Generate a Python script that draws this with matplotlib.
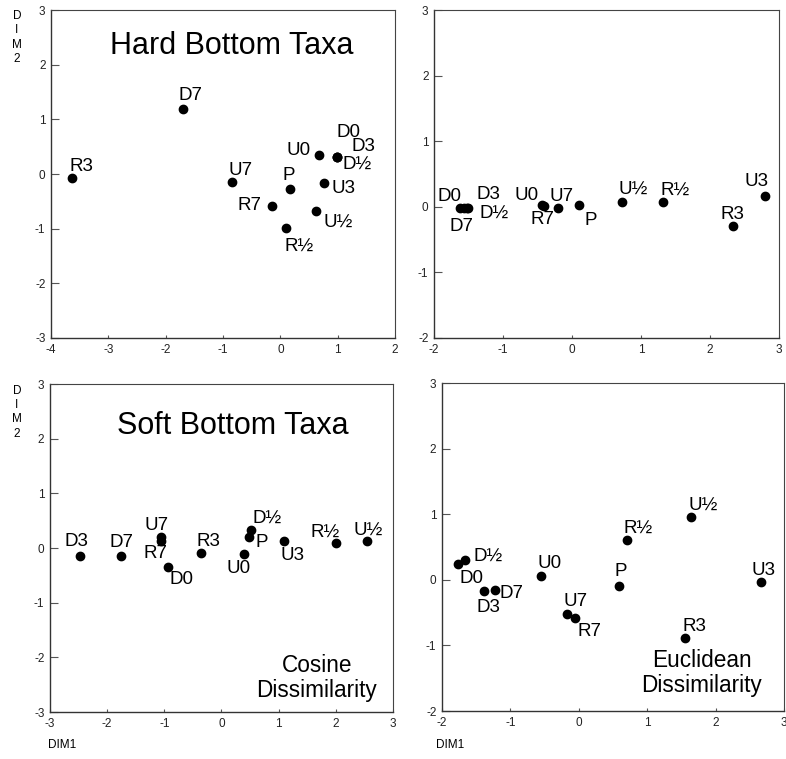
import matplotlib.pyplot as plt

plt.rcParams['font.family'] = ['Liberation Sans', 'DejaVu Sans']
plt.rcParams['axes.unicode_minus'] = False

# sample labels per panel
hard_cos_lab = ['R3', 'D7', 'U7', 'P', 'R7', 'R½', 'U½', 'U3', 'U0', 'D0', 'D3', 'D½']
hard_cos_x = [-3.63, -1.69, -0.84, 0.16, -0.15, 0.09, 0.62, 0.76, 0.67, 0.98, 0.98, 0.98]
hard_cos_y = [-0.08, 1.19, -0.15, -0.27, -0.58, -0.98, -0.67, -0.17, 0.34, 0.32, 0.32, 0.32]

hard_euc_lab = ['D0', 'D7', 'D3', 'D½', 'U0', 'R7', 'U7', 'P', 'U½', 'R½', 'R3', 'U3']
hard_euc_x = [-1.63, -1.57, -1.51, -1.52, -0.44, -0.40, -0.20, 0.10, 0.73, 1.32, 2.33, 2.80]
hard_euc_y = [-0.02, -0.02, -0.02, -0.02, 0.02, 0.01, -0.02, 0.02, 0.08, 0.07, -0.30, 0.17]

soft_cos_lab = ['D3', 'D7', 'U7', 'R7', 'D0', 'R3', 'U0', 'P', 'D½', 'U3', 'R½', 'U½']
soft_cos_x = [-2.48, -1.75, -1.06, -1.06, -0.93, -0.36, 0.39, 0.48, 0.52, 1.09, 2.00, 2.54]
soft_cos_y = [-0.14, -0.14, 0.20, 0.12, -0.34, -0.09, -0.10, 0.20, 0.33, 0.13, 0.09, 0.13]

soft_euc_lab = ['D0', 'D½', 'D3', 'D7', 'U0', 'U7', 'R7', 'P', 'R½', 'U½', 'R3', 'U3']
soft_euc_x = [-1.77, -1.66, -1.38, -1.23, -0.55, -0.17, -0.05, 0.59, 0.70, 1.64, 1.56, 2.67]
soft_euc_y = [0.24, 0.30, -0.17, -0.15, 0.06, -0.52, -0.58, -0.09, 0.61, 0.96, -0.89, -0.04]

# label offsets in pixels (layout only)
off_tl = [(9, 12), (7, 13), (8, 12), (-1, 13), (-22, 0), (14, -19), (22, -12),
          (20, -5), (-20, 5), (12, 24), (27, 10), (21, -8)]
off_tr = [(-10, 12), (-2, -18), (21, 14), (27, -5), (-15, 10), (-2, -13), (3, 12),
          (12, -15), (11, 12), (12, 12), (0, 12), (-9, 14)]
off_bl = [(-3, 14), (0, 13), (-4, 12), (-5, -12), (13, -13), (8, 11), (-5, -15),
          (13, -5), (16, 12), (9, -15), (-11, 11), (1, 11)]
off_br = [(14, -14), (23, 4), (4, -17), (17, -4), (8, 12), (8, 12), (14, -14),
          (2, 14), (11, 12), (12, 12), (9, 12), (2, 12)]

fig = plt.figure(figsize=(7.86, 7.59), dpi=100)

panels = [
    ([0.0649, 0.5547, 0.4377, 0.4321], hard_cos_x, hard_cos_y, hard_cos_lab, off_tl, (-4, 2), (-3, 3)),
    ([0.5522, 0.5547, 0.4389, 0.4321], hard_euc_x, hard_euc_y, hard_euc_lab, off_tr, (-2, 3), (-2, 3)),
    ([0.0636, 0.0619, 0.4364, 0.4321], soft_cos_x, soft_cos_y, soft_cos_lab, off_bl, (-3, 3), (-3, 3)),
    ([0.5623, 0.0632, 0.4351, 0.4321], soft_euc_x, soft_euc_y, soft_euc_lab, off_br, (-2, 3), (-2, 3)),
]

axes = []
for rect, xs, ys, labs, offs, xl, yl in panels:
    ax = fig.add_axes(rect)
    ax.scatter(xs, ys, s=36, color='black', zorder=3)
    for x, y, t, o in zip(xs, ys, labs, offs):
        ax.annotate(t, (x, y), xytext=o, textcoords='offset pixels',
                    ha='center', va='center', fontsize=13.5)
    ax.set_xlim(xl)
    ax.set_ylim(yl)
    ax.set_xticks(range(xl[0], xl[1] + 1))
    ax.set_yticks(range(yl[0], yl[1] + 1))
    ax.tick_params(axis='y', direction='in', length=6, width=0.8, color='#555555',
                   labelsize=8.5, pad=4, labelcolor='#222222')
    ax.tick_params(axis='x', direction='in', length=2, width=0.8, color='#555555',
                   labelsize=8.5, pad=4, labelcolor='#222222')
    for s in ['left', 'bottom']:
        ax.spines[s].set_color('#333333')
        ax.spines[s].set_linewidth(1.0)
    for s in ['top', 'right']:
        ax.spines[s].set_color('#444444')
        ax.spines[s].set_linewidth(0.8)
    axes.append(ax)

axes[0].text(0.526, 0.89, 'Hard Bottom Taxa', transform=axes[0].transAxes,
             ha='center', va='center', fontsize=22)
axes[2].text(0.534, 0.872, 'Soft Bottom Taxa', transform=axes[2].transAxes,
             ha='center', va='center', fontsize=22)
axes[2].text(0.778, 0.104, 'Cosine\nDissimilarity', transform=axes[2].transAxes,
             ha='center', va='center', fontsize=16.3, linespacing=1.1)
axes[3].text(0.76, 0.116, 'Euclidean\nDissimilarity', transform=axes[3].transAxes,
             ha='center', va='center', fontsize=16.3, linespacing=1.1)

# stacked DIM2 labels and DIM1 labels
for ytop in [10, 385]:
    fig.text(17 / 786, 1 - ytop / 759, 'D\nI\nM\n2', ha='center', va='top',
             fontsize=8.5, linespacing=1.25)
for xpos in [62, 450]:
    fig.text(xpos / 786, 1 - 745 / 759, 'DIM1', ha='center', va='center', fontsize=8.5)

fig.savefig('out.png', dpi=100)
